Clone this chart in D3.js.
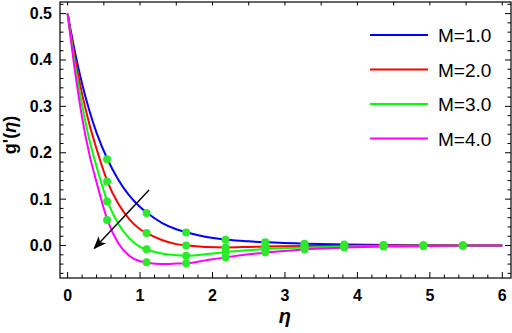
<!DOCTYPE html>
<html>
<head>
<meta charset="utf-8">
<script src="https://cdn.jsdelivr.net/npm/d3@7"></script>
<style>
  body { margin: 0; background: #fff; }
  text { font-family: "Liberation Sans", Arial, sans-serif; }
</style>
</head>
<body>
<svg id="chart"></svg>
<script>
var width = 512, height = 333;

// curve samples
var eta = [0, 0.1, 0.2, 0.3, 0.4, 0.55, 0.7, 0.85, 1.0, 1.1, 1.3, 1.5, 1.65, 1.9, 2.2, 2.5, 2.75, 3.3, 3.85, 4.4, 5.0, 5.5, 6.0];
var gM1 = [0.5, 0.418, 0.349, 0.291, 0.243, 0.186, 0.142, 0.108, 0.083, 0.070, 0.049, 0.035, 0.028, 0.019, 0.0125, 0.009, 0.007, 0.004, 0.002, 0.001, 0.0005, 0.0002, 0];
var gM2 = [0.5, 0.405, 0.327, 0.262, 0.208, 0.138, 0.090, 0.057, 0.035, 0.026, 0.012, 0.003, 0.0, -0.003, -0.004, -0.003, -0.002, -0.001, -0.0005, 0, 0, 0, 0];
var gM3 = [0.5, 0.392, 0.303, 0.228, 0.170, 0.095, 0.047, 0.016, -0.003, -0.009, -0.017, -0.021, -0.022, -0.019, -0.014, -0.010, -0.007, -0.004, -0.002, -0.001, -0.0005, 0, 0];
var gM4 = [0.5, 0.378, 0.276, 0.197, 0.136, 0.055, 0.005, -0.022, -0.034, -0.037, -0.040, -0.039, -0.038, -0.032, -0.025, -0.019, -0.015, -0.008, -0.004, -0.002, -0.001, 0, 0];

// green dots
var dotEta = [0.545, 1.09, 1.636, 2.18, 2.727, 3.27, 3.818, 4.36, 4.91, 5.455];
var dotM1 = [0.186, 0.070, 0.028, 0.0125, 0.007, 0.004, 0.002, 0.001, 0.0005, 0.0002];
var dotM2 = [0.138, 0.027, 0.0, -0.004, -0.002, -0.001, -0.0005, 0, 0, 0];
var dotM3 = [0.095, -0.008, -0.022, -0.014, -0.007, -0.004, -0.002, -0.001, -0.0005, 0];
var dotM4 = [0.055, -0.036, -0.038, -0.025, -0.015, -0.008, -0.004, -0.002, -0.001, 0];

var labels = ["M=1.0", "M=2.0", "M=3.0", "M=4.0"];
var colors = ["#0000ff", "#ff0000", "#00ff00", "#ff00ff"];
var series = [gM1, gM2, gM3, gM4];
var dots = [dotM1, dotM2, dotM3, dotM4];

var xTicks = [0, 1, 2, 3, 4, 5, 6];
var yTicks = [0.0, 0.1, 0.2, 0.3, 0.4, 0.5];

var pLeft = 60, pRight = 511, pTop = 2, pBottom = 278;

var svg = d3.select("#chart").attr("width", width).attr("height", height);

var x = d3.scaleLinear().domain([-0.105, 6.12]).range([pLeft, pRight]);
var y = d3.scaleLinear().domain([-0.07, 0.525]).range([pBottom, pTop]);

// frame ticks (inside, all four sides)
function tickLines(vals, len, side) {
  var horiz = side == "b" || side == "t";
  svg.append("g").selectAll("line").data(vals).join("line")
    .attr("x1", d => horiz ? x(d) : (side == "l" ? pLeft : pRight))
    .attr("x2", d => horiz ? x(d) : (side == "l" ? pLeft + len : pRight - len))
    .attr("y1", d => !horiz ? y(d) : (side == "b" ? pBottom : pTop))
    .attr("y2", d => !horiz ? y(d) : (side == "b" ? pBottom - len : pTop + len))
    .attr("stroke", "#000").attr("stroke-width", 1);
}
var xMinor = d3.range(0, 6.01, 0.2).filter(d => Math.abs(d - Math.round(d)) > 1e-6);
var yMinor = d3.range(-0.06, 0.521, 0.02).filter(d => Math.abs(d * 10 - Math.round(d * 10)) > 1e-6);
tickLines(xTicks, 6, "b");
tickLines(xMinor, 3.5, "b");
tickLines(yTicks, 6, "l");
tickLines(yMinor, 3.5, "l");
tickLines(yTicks, 6, "r");
tickLines(yMinor, 3.5, "r");
tickLines(d3.range(0, 6.01, 0.5), 3.5, "t");

svg.append("rect")
  .attr("x", pLeft).attr("y", pTop)
  .attr("width", pRight - pLeft).attr("height", pBottom - pTop)
  .attr("fill", "none").attr("stroke", "#000").attr("stroke-width", 1.2);

// tick labels
svg.append("g").selectAll("text").data(xTicks).join("text")
  .attr("x", d => x(d)).attr("y", 301)
  .attr("text-anchor", "middle")
  .style("font-size", "16px").style("font-weight", "bold")
  .text(d => d);

svg.append("g").selectAll("text").data(yTicks).join("text")
  .attr("x", 52).attr("y", d => y(d) + 5.5)
  .attr("text-anchor", "end")
  .style("font-size", "16px").style("font-weight", "bold")
  .text(d => d.toFixed(1));

// axis titles
svg.append("text")
  .attr("transform", "translate(16,135) rotate(-90)")
  .attr("text-anchor", "middle")
  .style("font-size", "18px").style("font-weight", "bold")
  .html("g'(<tspan font-style='italic'>η</tspan>)");

svg.append("text")
  .attr("x", x(3)).attr("y", 323)
  .attr("text-anchor", "middle")
  .style("font-size", "20px").style("font-weight", "bold").style("font-style", "italic")
  .text("η");

// curves
var line = d3.line()
  .x((d, i) => x(eta[i]))
  .y(d => y(d))
  .curve(d3.curveMonotoneX);

var plot = svg.append("g");
plot.selectAll("path").data(series).join("path")
  .attr("d", line)
  .attr("fill", "none")
  .attr("stroke", (d, i) => colors[i])
  .attr("stroke-width", 2);

// dots
dots.forEach(arr => {
  plot.append("g").selectAll("circle").data(arr).join("circle")
    .attr("cx", (d, i) => x(dotEta[i]))
    .attr("cy", d => y(d))
    .attr("r", 4)
    .attr("fill", "#2ee82e");
});

// arrow
svg.append("defs").append("marker")
  .attr("id", "head")
  .attr("viewBox", "0 0 10 10")
  .attr("refX", 9).attr("refY", 5)
  .attr("markerWidth", 13).attr("markerHeight", 13)
  .attr("markerUnits", "userSpaceOnUse")
  .attr("orient", "auto")
  .append("path").attr("d", "M0,1 L10,5 L0,9 L2.5,5 Z").attr("fill", "#000");

svg.append("line")
  .attr("x1", x(1.124)).attr("y1", y(0.1196))
  .attr("x2", x(0.369)).attr("y2", y(-0.006))
  .attr("stroke", "#000").attr("stroke-width", 1.4)
  .attr("marker-end", "url(#head)");

// legend
var legend = svg.append("g").selectAll("g").data(labels).join("g")
  .attr("transform", (d, i) => `translate(370, ${35 + i * 34.5})`);
legend.append("line")
  .attr("x1", 0).attr("x2", 58)
  .attr("stroke", (d, i) => colors[i]).attr("stroke-width", 2);
legend.append("text")
  .attr("x", 68).attr("y", 7)
  .style("font-size", "19px")
  .text(d => d);
</script>
</body>
</html>
